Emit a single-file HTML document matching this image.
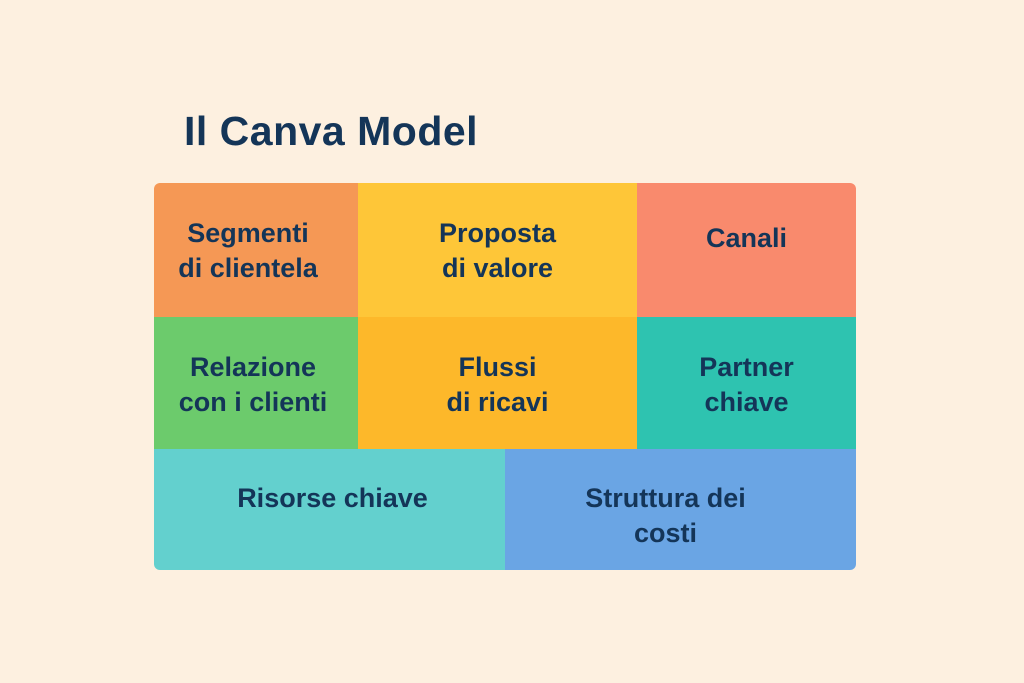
<!DOCTYPE html>
<html><head><meta charset="utf-8"><style>
body{margin:0;width:1024px;height:683px;background:#FDF0E0;position:relative;overflow:hidden;font-family:"Liberation Sans",sans-serif;}
.t{position:absolute;left:184px;top:108px;font-size:41px;font-weight:bold;color:#143558;letter-spacing:0.5px;}
.c{position:absolute;display:flex;align-items:center;justify-content:center;text-align:center;font-size:27px;font-weight:bold;color:#143558;line-height:35px;box-sizing:border-box;}
</style></head><body>
<div class="t">Il Canva Model</div>
<div class="c" style="left:154px;top:183px;width:204px;height:134px;background:#F59855;border-top-left-radius:6px;padding-top:2px;padding-right:16px">Segmenti<br>di clientela</div>
<div class="c" style="left:358px;top:183px;width:279px;height:134px;background:#FEC638;padding-top:2px">Proposta<br>di valore</div>
<div class="c" style="left:637px;top:183px;width:219px;height:134px;background:#F98A6D;border-top-right-radius:6px;padding-bottom:24px">Canali</div>
<div class="c" style="left:154px;top:317px;width:204px;height:132px;background:#6CCB6C;padding-top:4px;padding-right:6px">Relazione<br>con i clienti</div>
<div class="c" style="left:358px;top:317px;width:279px;height:132px;background:#FDB82A;padding-top:4px">Flussi<br>di ricavi</div>
<div class="c" style="left:637px;top:317px;width:219px;height:132px;background:#2EC3B0;padding-top:4px">Partner<br>chiave</div>
<div class="c" style="left:154px;top:449px;width:351px;height:121px;background:#63D0CE;border-bottom-left-radius:6px;padding-bottom:22px;padding-left:6px">Risorse chiave</div>
<div class="c" style="left:505px;top:449px;width:351px;height:121px;background:#6AA5E4;border-bottom-right-radius:6px;padding-top:12px;padding-right:30px">Struttura dei<br>costi</div>
</body></html>
